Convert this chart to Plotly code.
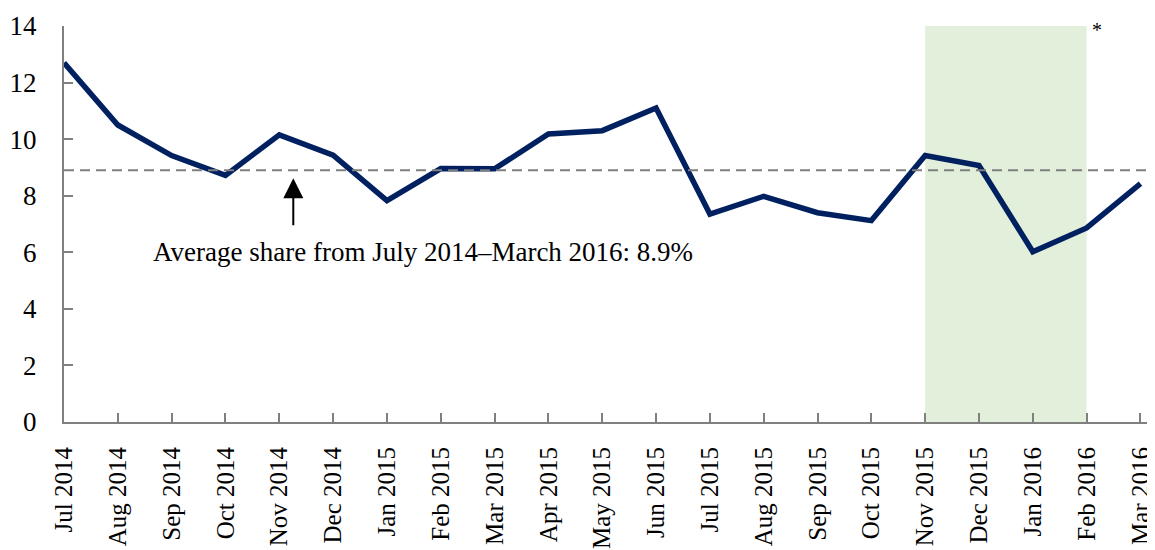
import plotly.graph_objects as go

# monthly share (%)
months = ["Jul 2014", "Aug 2014", "Sep 2014", "Oct 2014", "Nov 2014", "Dec 2014",
          "Jan 2015", "Feb 2015", "Mar 2015", "Apr 2015", "May 2015", "Jun 2015",
          "Jul 2015", "Aug 2015", "Sep 2015", "Oct 2015", "Nov 2015", "Dec 2015",
          "Jan 2016", "Feb 2016", "Mar 2016"]
share = [12.7, 10.5, 9.42, 8.72, 10.15, 9.43,
         7.83, 8.96, 8.95, 10.18, 10.3, 11.1,
         7.35, 7.98, 7.4, 7.12, 9.42, 9.07,
         6.02, 6.86, 8.43]
average = 8.9
shade_start, shade_end = "Nov 2015", "Feb 2016"

font = "Liberation Serif"
xs = list(range(len(months)))

fig = go.Figure()

fig.add_trace(go.Scatter(
    x=xs, y=share, mode="lines",
    line=dict(color="#002060", width=5.5),
    showlegend=False,
))

# shaded period
fig.add_shape(type="rect", xref="x", yref="y",
              x0=months.index(shade_start), x1=months.index(shade_end),
              y0=0, y1=14, fillcolor="#e2efda", line_width=0, layer="below")

# average line
fig.add_shape(type="line", xref="x", yref="y",
              x0=0, x1=len(months) - 0.72, y0=average, y1=average,
              line=dict(color="#7f7f7f", width=2.2, dash="10px,6px"))

# arrow
fig.add_annotation(x=4.26, y=8.62, ax=4.26, ay=6.9, xref="x", yref="y",
                   axref="x", ayref="y", text="", showarrow=True,
                   arrowhead=2, arrowsize=2, arrowwidth=2, arrowcolor="black")
fig.add_annotation(x=6.67, y=6.02, xref="x", yref="y", showarrow=False,
                   text="Average share from July 2014–March 2016: %.1f%%" % average,
                   font=dict(family=font, size=27, color="black"))
fig.add_annotation(x=19.2, y=13.85, xref="x", yref="y", showarrow=False,
                   text="*", font=dict(family=font, size=20, color="black"))

fig.update_xaxes(
    range=[0, len(months) - 0.73], automargin=False,
    tickmode="array", tickvals=xs, ticktext=months, tickangle=-90,
    ticks="inside", ticklen=9, tickcolor="#808080", tickwidth=2,
    showline=True, linecolor="#808080", linewidth=2,
    showgrid=False, zeroline=False, ticklabelstandoff=13,
    tickfont=dict(family=font, size=25, color="black"),
)
fig.update_yaxes(
    range=[0, 14], dtick=2, automargin=False,
    ticks="inside", ticklen=9, tickcolor="#808080", tickwidth=2,
    showline=True, linecolor="#808080", linewidth=2,
    showgrid=False, zeroline=False, ticklabelstandoff=20,
    tickfont=dict(family=font, size=27, color="black"),
)

# page body has an 8px margin, so shrink the figure to fit the window
fig.update_layout(
    width=1147, height=542,
    margin=dict(l=56, r=0, t=18, b=128),
    plot_bgcolor="white", paper_bgcolor="white",
)

fig.write_html("out.html")
